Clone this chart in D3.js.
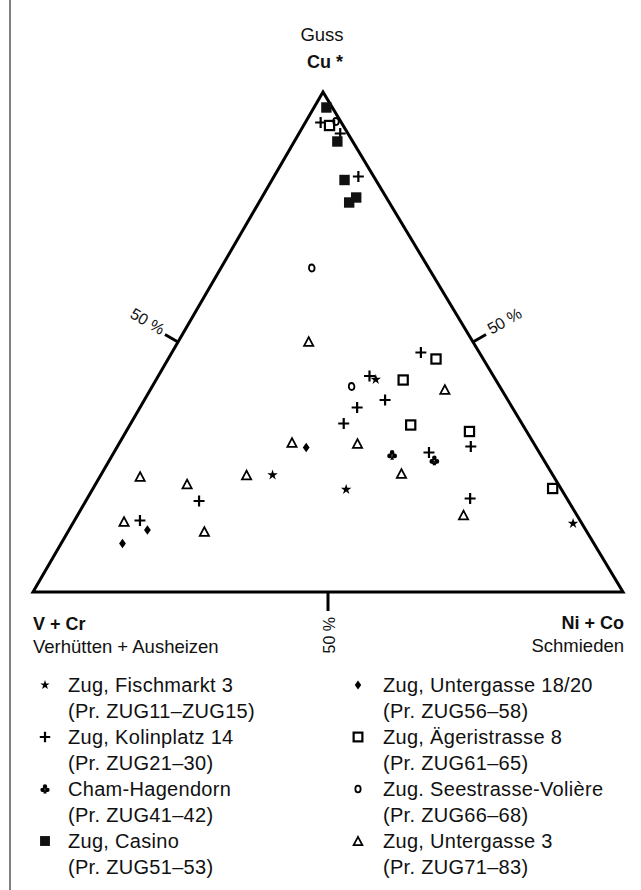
<!DOCTYPE html>
<html>
<head>
<meta charset="utf-8">
<script src="https://cdn.jsdelivr.net/npm/d3@7"></script>
<style>
  html, body { margin: 0; padding: 0; background: #fff; }
  svg { display: block; }
  text { font-family: "Liberation Sans", Arial, Helvetica, sans-serif; fill: #111; }
</style>
</head>
<body>
<svg id="chart" width="641" height="890"></svg>
<script>
// ---- data: [Cu*, Ni+Co, V+Cr] in percent ----
const vertexLabels = ["Cu *", "V + Cr", "Ni + Co"];
const vertexSubLabels = ["Guss", "Verhütten + Ausheizen", "Schmieden"];
const tickValues = [50];
const tickLabels = ["50 %"];

const fischmarkt = [[42.5,37.2,20.3],[23.4,29.1,47.5],[20.5,43.0,36.5],[13.7,84.8,1.5]];
const kolinplatz = [[93.9,2.6,3.5],[91.7,7.0,1.3],[83.1,14.3,2.6],[47.9,42.2,9.9],[43.2,35.8,21.0],
  [38.4,40.8,20.8],[36.9,36.8,26.3],[33.7,36.1,30.2],[29.1,59.9,11.0],[27.9,53.4,18.7],
  [18.7,64.9,16.4],[18.2,19.2,62.6],[14.3,11.1,74.6]];
const chamHagendorn = [[27.4,47.4,25.2],[26.3,55.1,18.6]];
const casino = [[96.9,2.1,1.0],[90.1,7.3,2.6],[82.4,12.3,5.3],[78.9,16.0,5.1],[77.9,15.3,6.8]];
const untergasse1820 = [[28.9,32.1,39.0],[12.4,13.3,74.3],[9.7,10.4,79.9]];
const aegeristrasse = [[93.3,4.4,2.3],[46.6,45.4,8.0],[42.4,41.9,15.7],[33.4,47.6,19.0],[32.1,58.2,9.7],[20.7,77.9,1.4]];
const seestrasse = [[94.1,5.1,0.8],[64.8,15.4,19.8],[41.1,33.8,25.1]];
const untergasse3 = [[50.1,22.1,27.8],[40.5,49.9,9.6],[29.9,29.2,40.9],[29.7,40.4,29.9],[23.7,50.8,25.5],
  [23.1,6.8,70.1],[23.4,24.7,51.9],[21.6,15.5,62.9],[14.1,8.5,77.4],[12.1,23.1,64.8],[15.4,65.4,19.2]];

const legendNames = ["Zug, Fischmarkt 3","Zug, Kolinplatz 14","Cham-Hagendorn","Zug, Casino",
  "Zug, Untergasse 18/20","Zug, Ägeristrasse 8","Zug. Seestrasse-Volière","Zug, Untergasse 3"];
const legendSamples = ["(Pr. ZUG11–ZUG15)","(Pr. ZUG21–30)","(Pr. ZUG41–42)","(Pr. ZUG51–53)",
  "(Pr. ZUG56–58)","(Pr. ZUG61–65)","(Pr. ZUG66–68)","(Pr. ZUG71–83)"];
const markerKinds = ["star","plus","club","fsquare","diamond","osquare","circle","triangle"];
const seriesData = [fischmarkt, kolinplatz, chamHagendorn, casino, untergasse1820, aegeristrasse, seestrasse, untergasse3];

// ---- layout ----
const svg = d3.select("#chart");
const apex = [323, 92], left = [33, 592], right = [623, 592];

const yScale = d3.scaleLinear().domain([0, 100]).range([left[1], apex[1]]);       // Cu*
const xBase = d3.scaleLinear().domain([0, 100]).range([left[0], right[0]]);      // Ni+Co along base
const xShift = d3.scaleLinear().domain([0, 100]).range([0, apex[0] - left[0]]);  // shift by Cu*
const px = d => xBase(d[1]) + xShift(d[0]);
const py = d => yScale(d[0]);

// frame
svg.append("line").attr("x1", 10).attr("x2", 10).attr("y1", 0).attr("y2", 890)
  .attr("stroke", "#555").attr("stroke-width", 1.5);

// triangle
svg.append("path")
  .attr("d", d3.line()([apex, left, right]) + "Z")
  .attr("fill", "none").attr("stroke", "#000").attr("stroke-width", 3).attr("stroke-linejoin", "miter");

// ticks at 50%
tickValues.forEach((v, i) => {
  const tl = 15;
  // left edge (Cu = v, NiCo = 0)
  const lp = [px([v, 0]), py([v, 0])];
  const lo = [-Math.cos(Math.PI / 6), -Math.sin(Math.PI / 6)];
  svg.append("line").attr("x1", lp[0]).attr("y1", lp[1]).attr("x2", lp[0] + lo[0] * tl).attr("y2", lp[1] + lo[1] * tl)
    .attr("stroke", "#000").attr("stroke-width", 3);
  const la = [lp[0] + lo[0] * (tl + 2), lp[1] + lo[1] * (tl + 2) - 3];
  svg.append("text").attr("transform", `translate(${la[0]},${la[1]}) rotate(30)`)
    .attr("text-anchor", "end").attr("dy", "0.35em").attr("font-size", 16).text(tickLabels[i]);
  // right edge (Cu = v, NiCo = 100 - v)
  const rp = [px([v, 100 - v]), py([v, 100 - v])];
  const ro = [Math.cos(Math.PI / 6), -Math.sin(Math.PI / 6)];
  svg.append("line").attr("x1", rp[0]).attr("y1", rp[1]).attr("x2", rp[0] + ro[0] * tl).attr("y2", rp[1] + ro[1] * tl)
    .attr("stroke", "#000").attr("stroke-width", 3);
  const ra = [rp[0] + ro[0] * (tl + 3), rp[1] + ro[1] * (tl + 3) - 3];
  svg.append("text").attr("transform", `translate(${ra[0]},${ra[1]}) rotate(-30)`)
    .attr("text-anchor", "start").attr("dy", "0.35em").attr("font-size", 16).text(tickLabels[i]);
  // bottom (Cu = 0, NiCo = v)
  const bp = [px([0, v]), py([0, v])];
  svg.append("line").attr("x1", bp[0]).attr("y1", bp[1]).attr("x2", bp[0]).attr("y2", bp[1] + 19)
    .attr("stroke", "#000").attr("stroke-width", 3);
  svg.append("text").attr("transform", `translate(${bp[0] + 1},${bp[1] + 25}) rotate(-90)`)
    .attr("text-anchor", "end").attr("dy", "0.35em").attr("font-size", 16).text(tickLabels[i]);
});

// vertex labels
svg.append("text").attr("x", 322).attr("y", 41).attr("text-anchor", "middle").attr("font-size", 18.5).text(vertexSubLabels[0]);
svg.append("text").attr("x", 325).attr("y", 68).attr("text-anchor", "middle").attr("font-size", 18).attr("font-weight", "bold").text(vertexLabels[0]);
svg.append("text").attr("x", 33).attr("y", 630).attr("font-size", 18).attr("font-weight", "bold").text(vertexLabels[1]);
svg.append("text").attr("x", 33).attr("y", 653).attr("font-size", 18.5).text(vertexSubLabels[1]);
svg.append("text").attr("x", 624).attr("y", 629).attr("text-anchor", "end").attr("font-size", 18).attr("font-weight", "bold").text(vertexLabels[2]);
svg.append("text").attr("x", 624).attr("y", 652).attr("text-anchor", "end").attr("font-size", 18.5).text(vertexSubLabels[2]);

// ---- markers ----
function drawMarker(g, kind, s) {
  s = s || 1;
  if (kind === "star") {
    g.append("path").attr("d", d3.symbol(d3.symbolStar, 34 * s * s)()).attr("fill", "#000");
  } else if (kind === "plus") {
    const h = 5.5 * s;
    g.append("path").attr("d", `M${-h},0H${h}M0,${-h}V${h}`).attr("stroke", "#000").attr("stroke-width", 2.2).attr("fill", "none");
  } else if (kind === "club") {
    const p = d3.path(), r = 2.3 * s;
    [[0, -2.6 * s], [-2.6 * s, 0.9 * s], [2.6 * s, 0.9 * s]].forEach(c => { p.moveTo(c[0] + r, c[1]); p.arc(c[0], c[1], r, 0, 2 * Math.PI); });
    p.moveTo(0, 0); p.lineTo(-1.9 * s, 4.8 * s); p.lineTo(1.9 * s, 4.8 * s); p.closePath();
    g.append("path").attr("d", p.toString()).attr("fill", "#000");
  } else if (kind === "fsquare") {
    const h = 5.2 * s;
    g.append("rect").attr("x", -h).attr("y", -h).attr("width", 2 * h).attr("height", 2 * h).attr("fill", "#111");
  } else if (kind === "diamond") {
    const w = 3.4 * s, h = 4.8 * s;
    g.append("path").attr("d", `M0,${-h}L${w},0L0,${h}L${-w},0Z`).attr("fill", "#000");
  } else if (kind === "osquare") {
    const h = 4.6 * s;
    g.append("rect").attr("x", -h).attr("y", -h).attr("width", 2 * h).attr("height", 2 * h)
      .attr("fill", "#fff").attr("stroke", "#000").attr("stroke-width", 2.2);
  } else if (kind === "circle") {
    g.append("ellipse").attr("rx", 2.8 * s).attr("ry", 3.5 * s).attr("fill", "none").attr("stroke", "#000").attr("stroke-width", 1.8);
  } else if (kind === "triangle") {
    const w = 4.6 * s, h = 4.4 * s;
    g.append("path").attr("d", `M0,${-h}L${w},${h}L${-w},${h}Z`).attr("fill", "none")
      .attr("stroke", "#000").attr("stroke-width", 1.8).attr("stroke-linejoin", "miter");
  }
}

const pts = svg.append("g");
seriesData.forEach((arr, si) => {
  arr.forEach(d => {
    const g = pts.append("g").attr("transform", `translate(${px(d)},${py(d)})`);
    drawMarker(g, markerKinds[si]);
  });
});

// ---- legend ----
const legendRowY = d3.scaleLinear().domain([0, 7]).range([692, 874]);
const colSymX = [45, 358], colTextX = [68, 383];
legendNames.forEach((name, i) => {
  const col = i < 4 ? 0 : 1, row = (i % 4) * 2;
  const yb = legendRowY(row);
  const g = svg.append("g").attr("transform", `translate(${colSymX[col]},${yb - 7})`);
  drawMarker(g, markerKinds[i], markerKinds[i] === "star" ? 0.9 : 0.95);
  svg.append("text").attr("x", colTextX[col]).attr("y", yb).attr("font-size", 20).attr("letter-spacing", 0.3).text(name);
  svg.append("text").attr("x", colTextX[col]).attr("y", legendRowY(row + 1)).attr("font-size", 20).attr("letter-spacing", 0.3).text(legendSamples[i]);
});
</script>
</body>
</html>
